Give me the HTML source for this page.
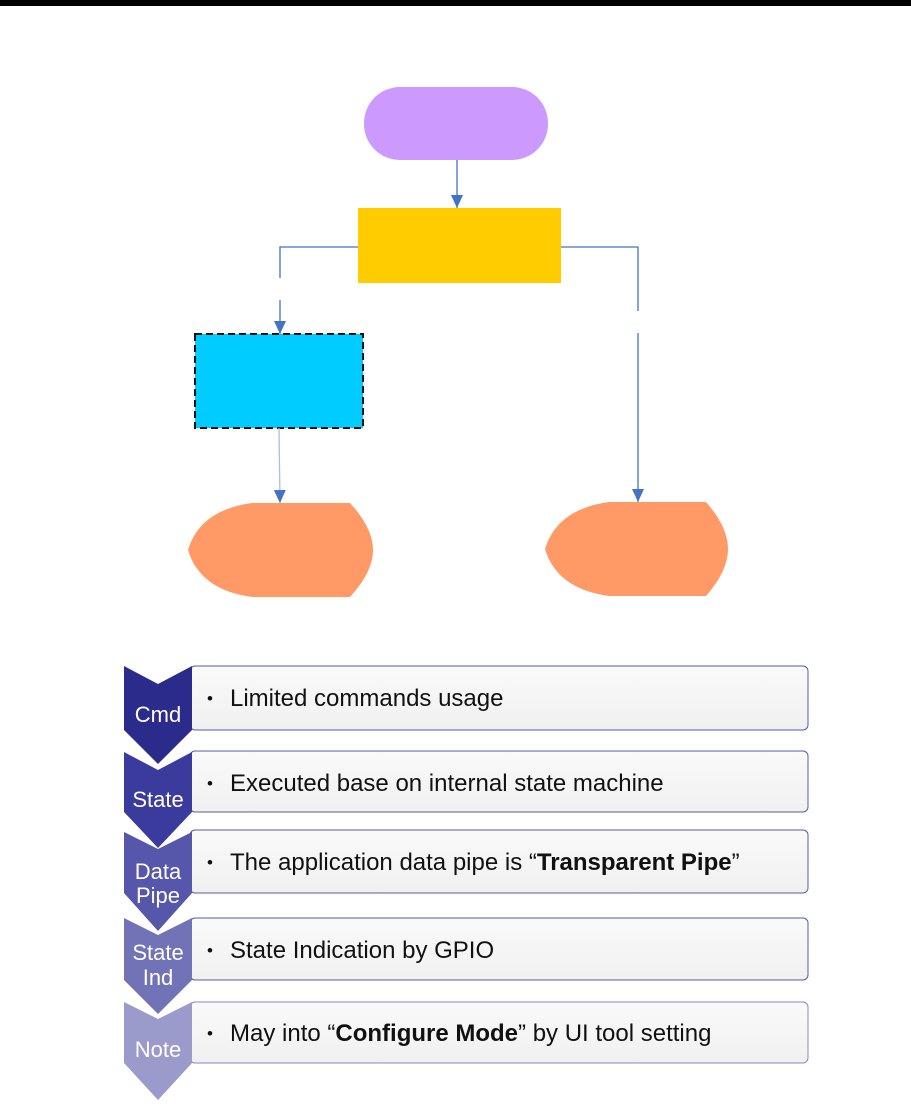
<!DOCTYPE html>
<html><head><meta charset="utf-8"><style>
body{margin:0;background:#fff;width:911px;height:1106px;overflow:hidden}
svg{display:block}
text{font-family:"Liberation Sans",sans-serif}
</style></head><body>
<svg width="911" height="1106" viewBox="0 0 911 1106">
<defs>
<linearGradient id="box" x1="0" y1="0" x2="0" y2="1"><stop offset="0" stop-color="#fafafa"/><stop offset="1" stop-color="#f0f0f0"/></linearGradient>
<marker id="ar" markerWidth="13" markerHeight="12" refX="13" refY="6" orient="auto" markerUnits="userSpaceOnUse"><path d="M0,0 L13,6 L0,12 Z" fill="#4472c4"/></marker>
</defs>
<rect x="0" y="0" width="911" height="6" fill="#000"/>
<rect x="364" y="87" width="184" height="73" rx="36" fill="#cc99ff"/>
<rect x="358" y="208" width="203" height="75" fill="#ffcc00"/>
<rect x="195" y="334" width="168" height="94" fill="#00ccff" stroke="#111" stroke-width="2" stroke-dasharray="7,4"/>
<path d="M252,503 L350,503 Q373,528 373,550 Q373,572 350,597 L252,597 Q200,590 188,550 Q200,510 252,503Z" fill="#ff9966"/>
<path d="M609,502 L706,502 Q728,527 728,549 Q728,571 706,596 L609,596 Q557,589 545,549 Q557,509 609,502Z" fill="#ff9966"/>
<g stroke="#4472c4" stroke-width="1.3" fill="none">
<line x1="457" y1="160" x2="457" y2="208" marker-end="url(#ar)"/>
<polyline points="358,247 280,247 280,278"/>
<line x1="280" y1="300" x2="280" y2="334" marker-end="url(#ar)"/>
<polyline points="561,247 638,247 638,311"/>
<line x1="638" y1="333" x2="638" y2="502" marker-end="url(#ar)"/>
<line x1="279" y1="428" x2="280" y2="503" stroke="#a9bfe6" marker-end="url(#ar)"/>
</g>
<g stroke="#5a5aa8" stroke-width="1">
<rect x="190" y="666" width="618" height="64" rx="5" fill="url(#box)"/>
<rect x="190" y="751" width="618" height="61" rx="5" fill="url(#box)"/>
<rect x="190" y="830" width="618" height="63" rx="5" fill="url(#box)"/>
<rect x="190" y="918" width="618" height="62" rx="5" fill="url(#box)"/>
<rect x="190" y="1002" width="618" height="61" rx="5" fill="url(#box)" stroke="#8a8ac0"/>
</g>
<polygon points="124,666 158,684 192,666 192,730 158,764 124,730" fill="#2b2b8c"/>
<polygon points="124,752 158,770 192,752 192,812 158,848 124,812" fill="#3b3b9e"/>
<polygon points="124,832 158,849 192,832 192,893 158,931 124,893" fill="#5656aa"/>
<polygon points="124,918 158,935 192,918 192,980 158,1014 124,980" fill="#7272b6"/>
<polygon points="124,1002 158,1019 192,1002 192,1063 158,1100 124,1063" fill="#9a9acb"/>
<g fill="#fff" font-size="22" text-anchor="middle">
<text x="158" y="722">Cmd</text>
<text x="158" y="807">State</text>
<text x="158" y="879">Data</text>
<text x="158" y="903">Pipe</text>
<text x="158" y="960">State</text>
<text x="158" y="985">Ind</text>
<text x="158" y="1057">Note</text>
</g>
<g fill="#111" font-size="17">
<text x="207" y="704">•</text>
<text x="207" y="789">•</text>
<text x="207" y="868">•</text>
<text x="207" y="956">•</text>
<text x="207" y="1039">•</text>
</g>
<g fill="#111" font-size="24">
<text x="230" y="706">Limited commands usage</text>
<text x="230" y="791">Executed base on internal state machine</text>
<text x="230" y="870">The application data pipe is “<tspan font-weight="bold">Transparent Pipe</tspan>”</text>
<text x="230" y="958">State Indication by GPIO</text>
<text x="230" y="1041">May into “<tspan font-weight="bold">Configure Mode</tspan>” by UI tool setting</text>
</g>
</svg>
</body></html>
